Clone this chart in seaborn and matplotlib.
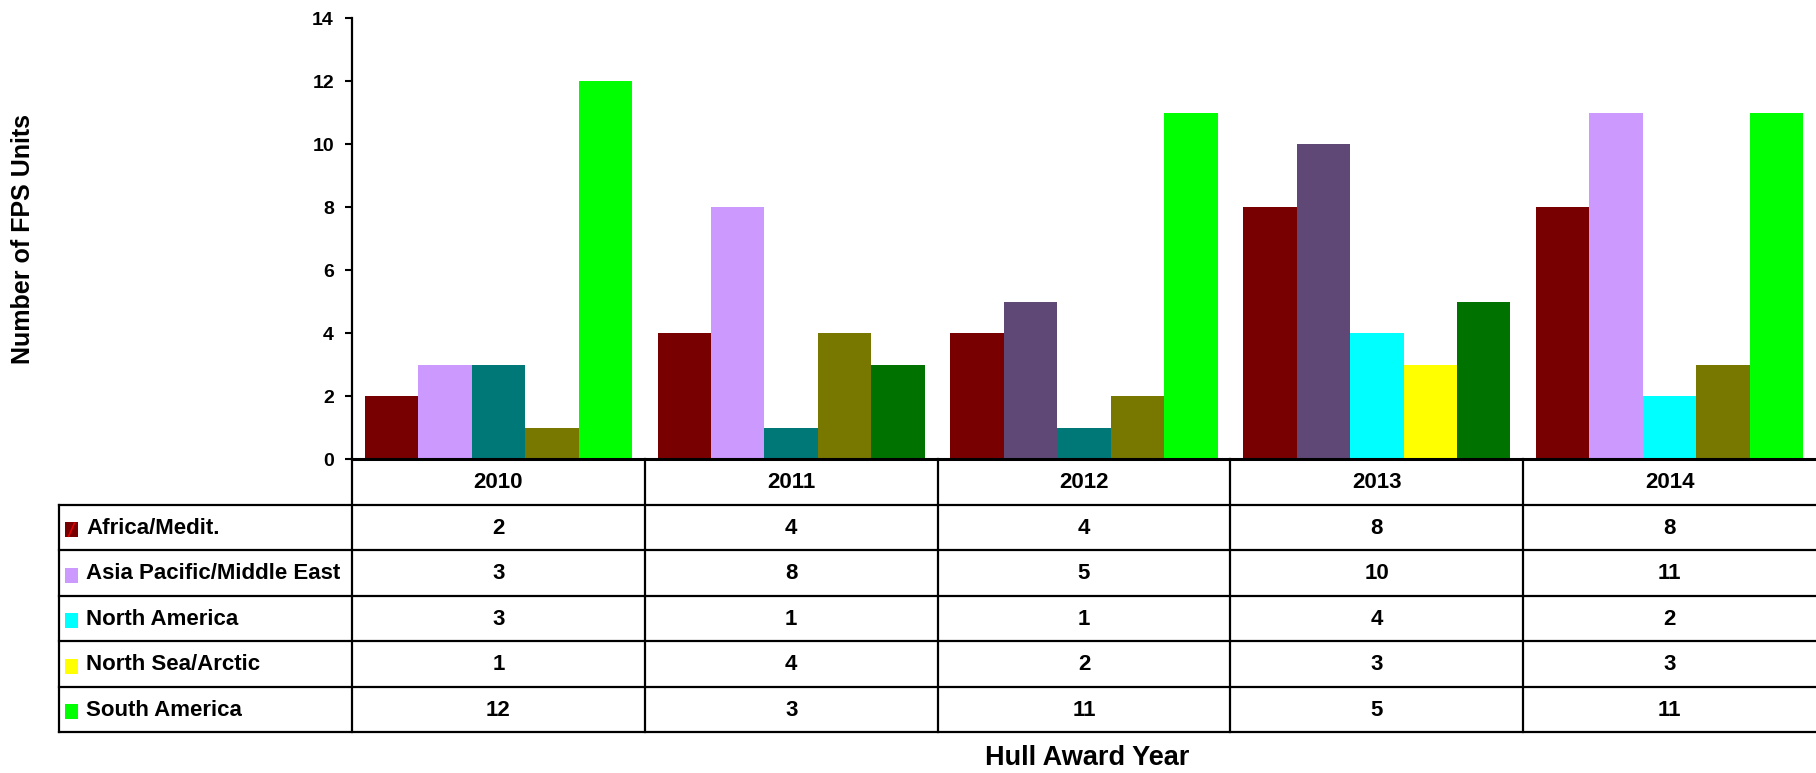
import numpy as np
import pandas as pd
import matplotlib
matplotlib.use("Agg")
import matplotlib.pyplot as plt
from matplotlib.patches import Rectangle
import seaborn as sns

# FPS hull awards per region and year
years = ["2010", "2011", "2012", "2013", "2014"]
regions = ["Africa/Medit.", "Asia Pacific/Middle East", "North America",
           "North Sea/Arctic", "South America"]
africa = [2, 4, 4, 8, 8]
asia_pacific = [3, 8, 5, 10, 11]
north_america = [3, 1, 1, 4, 2]
north_sea = [1, 4, 2, 3, 3]
south_america = [12, 3, 11, 5, 11]
series = [africa, asia_pacific, north_america, north_sea, south_america]

# legend-key colours and the individual fill of each bar (rows = years)
key_colors = ["#780000", "#CC99FF", "#00FFFF", "#FFFF00", "#00FF00"]
bar_colors = [
    ["#780000", "#CC99FF", "#007878", "#787800", "#00FF00"],
    ["#780000", "#CC99FF", "#007878", "#787800", "#007200"],
    ["#780000", "#5F4876", "#007878", "#787800", "#00FF00"],
    ["#780000", "#5F4876", "#00FFFF", "#FFFF00", "#007200"],
    ["#780000", "#CC99FF", "#00FFFF", "#787800", "#00FF00"],
]

df = pd.DataFrame(
    [(y, r, v) for r, vals in zip(regions, series) for y, v in zip(years, vals)],
    columns=["year", "region", "units"],
)

sns.set_theme(style="white")
plt.rcParams["font.family"] = ["Liberation Sans", "DejaVu Sans"]
plt.rcParams["font.weight"] = "bold"

W, H = 1816, 773
fig = plt.figure(figsize=(W / 100, H / 100), dpi=100)
x0, x1 = 352, 1816
y_top, y_zero, y_tab = 18.3, 459, 732

ax = fig.add_axes([x0 / W, 1 - y_zero / H, (x1 - x0) / W, (y_zero - y_top) / H])
sns.barplot(data=df, x="year", y="units", hue="region", order=years,
            hue_order=regions, palette=key_colors, saturation=1,
            width=0.912, gap=0, legend=False, linewidth=0, edgecolor="none",
            ax=ax)
for h, cont in enumerate(ax.containers):
    for c, bar in enumerate(cont):
        bar.set_facecolor(bar_colors[c][h])

ax.set_xlim(-0.5, len(years) - 0.5)
ax.set_ylim(0, 14)
ax.set_yticks(np.arange(0, 15, 2))
ax.set_xlabel("")
ax.set_ylabel("")
ax.grid(False)
ax.tick_params(axis="x", bottom=False, labelbottom=False)
ax.tick_params(axis="y", left=True, direction="out", length=5, width=1.5,
               color="black", labelsize=14, pad=8, labelcolor="black")
for lbl in ax.get_yticklabels():
    lbl.set_fontweight("bold")
for side in ("top", "right"):
    ax.spines[side].set_visible(False)
ax.spines["left"].set_color("black")
ax.spines["left"].set_linewidth(1.6)
ax.spines["bottom"].set_color("black")
ax.spines["bottom"].set_linewidth(2.2)

# data table under the bars
tab = fig.add_axes([x0 / W, 1 - y_tab / H, (x1 - x0) / W, (y_tab - y_zero) / H])
tab.set_xlim(-0.5, len(years) - 0.5)
tab.set_ylim(len(regions) + 1, 0)
tab.axis("off")
n_rows = len(regions) + 1
line_kw = dict(color="black", lw=1.6, clip_on=False, solid_capstyle="projecting")
for r in range(1, n_rows + 1):
    tab.plot([-1.5, len(years) - 0.5], [r, r], **line_kw)
tab.plot([-1.5, -1.5], [1, n_rows], **line_kw)
for c in range(len(years)):
    tab.plot([c - 0.5, c - 0.5], [0, n_rows], **line_kw)

for c, y in enumerate(years):
    tab.text(c, 0.52, y, ha="center", va="center", fontsize=16,
             fontweight="bold", color="black")
for i, (reg, vals) in enumerate(zip(regions, series)):
    row_c = i + 1.52
    tab.add_patch(Rectangle((-1.48, row_c - 0.13), 0.045, 0.33,
                            facecolor=key_colors[i], edgecolor="none",
                            clip_on=False))
    tab.text(-1.408, row_c, reg, ha="left", va="center", fontsize=16,
             fontweight="bold", color="black")
    for c, v in enumerate(vals):
        tab.text(c, row_c, str(v), ha="center", va="center", fontsize=16,
                 fontweight="bold", color="black")
# red slash on the Africa key
tab.plot([-1.468, -1.448], [1.52 + 0.18, 1.52 - 0.11], color="#E00000",
         lw=1.2, clip_on=False)

fig.text(23 / W, 1 - 238.5 / H, "Number of FPS Units", rotation=90,
         ha="center", va="center", fontsize=18, fontweight="bold",
         color="black")
fig.text(1087 / W, 1 - 758 / H, "Hull Award Year", ha="center", va="center",
         fontsize=19.5, fontweight="bold", color="black")

fig.savefig("out.png", dpi=100)
